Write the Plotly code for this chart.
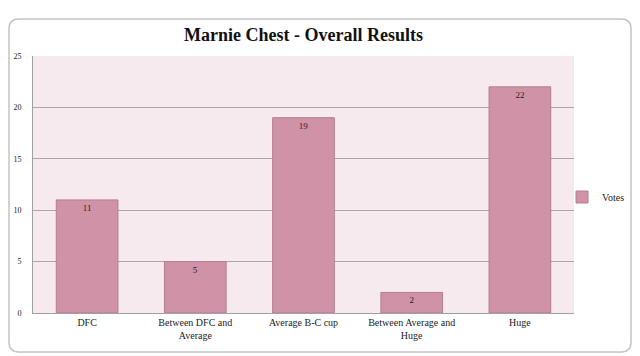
import plotly.graph_objects as go

categories = ["DFC", "Between DFC and<br>Average", "Average B-C cup", "Between Average and<br>Huge", "Huge"]
votes = [11, 5, 19, 2, 22]
series_name = "Votes"

L, R, T, B = 33, 66, 56, 43
W, H = 640, 356
pw, ph = W - L - R, H - T - B

def px_x(x):
    return (x - L) / pw

def px_y(y):
    return (H - B - y) / ph

fig = go.Figure()
fig.add_trace(go.Bar(
    x=categories, y=votes, name=series_name,
    marker=dict(color="#D092A7", line=dict(color="#B57C93", width=1)),
    text=[str(v) for v in votes], textposition="inside", insidetextanchor="end",
    textfont=dict(family="Liberation Serif, serif", size=9, color="#222222"),
    width=0.57, showlegend=True,
))

# rounded frame
x0, x1, y0, y1, r = 9, 631, 19, 352, 10
pth = (f"M {px_x(x0+r)} {px_y(y0)} L {px_x(x1-r)} {px_y(y0)} "
       f"Q {px_x(x1)} {px_y(y0)} {px_x(x1)} {px_y(y0+r)} "
       f"L {px_x(x1)} {px_y(y1-r)} Q {px_x(x1)} {px_y(y1)} {px_x(x1-r)} {px_y(y1)} "
       f"L {px_x(x0+r)} {px_y(y1)} Q {px_x(x0)} {px_y(y1)} {px_x(x0)} {px_y(y1-r)} "
       f"L {px_x(x0)} {px_y(y0+r)} Q {px_x(x0)} {px_y(y0)} {px_x(x0+r)} {px_y(y0)} Z")

fig.update_layout(
    width=W, height=H,
    margin=dict(l=L, r=R, t=T, b=B, autoexpand=False),
    paper_bgcolor="white", plot_bgcolor="#F6EAEF",
    font=dict(family="Liberation Serif, serif", size=10, color="#222222"),
    title=dict(text="<b>Marnie Chest - Overall Results</b>", x=0.5, xref="paper",
               y=1 - 35 / H, yanchor="middle",
               font=dict(family="Liberation Serif, serif", size=18, color="#111111")),
    shapes=[dict(type="path", path=pth, xref="paper", yref="paper",
                 line=dict(color="#C4C4C4", width=1.5), layer="below")],
    legend=dict(x=px_x(562), y=px_y(197), xanchor="left", yanchor="middle",
                font=dict(family="Liberation Serif, serif", size=10, color="#222222"),
                bgcolor="rgba(0,0,0,0)", itemwidth=30),
    showlegend=True,
    bargap=0.43,
)
fig.update_xaxes(showline=True, linecolor="#A0A0A0", linewidth=1, ticks="",
                 tickfont=dict(size=10))
fig.update_yaxes(range=[0, 25], dtick=5, showgrid=True, gridcolor="#ABA6A8", gridwidth=1,
                 showline=True, linecolor="#A0A0A0", linewidth=1, ticks="",
                 tickfont=dict(size=8), ticklabelstandoff=9, zeroline=False)

fig.write_html("out.html", config={"displayModeBar": False},
               post_script="document.body.style.margin='0';document.body.style.padding='0';")
